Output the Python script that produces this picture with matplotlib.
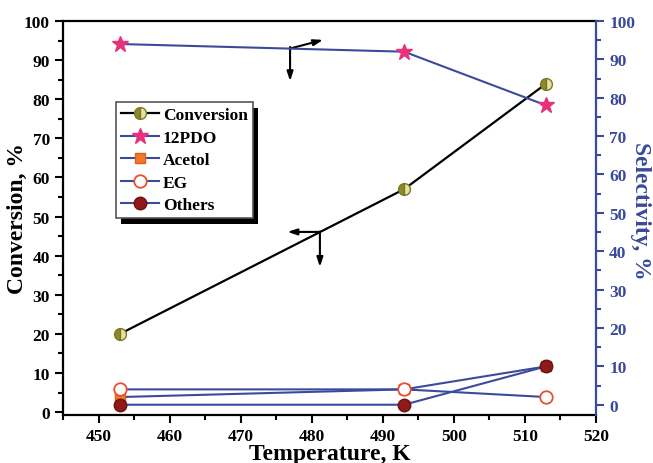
import matplotlib
matplotlib.use("Agg")
import matplotlib.pyplot as plt
from matplotlib.ticker import MultipleLocator
from matplotlib.patches import Rectangle
from matplotlib.transforms import IdentityTransform

plt.rcParams['font.family'] = ['Liberation Serif', 'DejaVu Serif']
plt.rcParams['font.weight'] = 'bold'

temperature = [453, 493, 513]
conversion = [20, 57, 84]
sel_12pdo = [94, 92, 78]
sel_acetol = [2, 4, 10]
sel_eg = [4, 4, 2]
sel_others = [0, 0, 10]

BLUE = '#3b4b9c'
BLUE_TXT = '#3a4a9a'

fig = plt.figure(figsize=(6.53, 4.64), dpi=100)
ax = fig.add_axes([0.0965, 0.1045, 0.8162, 0.8481])
ax2 = ax.twinx()

l_conv, = ax.plot(temperature, conversion, color='black', lw=1.6, marker='o', ms=8.5,
                  fillstyle='left', markerfacecolor='#8c8a2c', markerfacecoloralt='#e6e2a4',
                  markeredgecolor='#7a7822', markeredgewidth=1.0, label='Conversion', zorder=3)

l_pdo, = ax2.plot(temperature, sel_12pdo, color=BLUE, lw=1.5, marker='*', ms=12,
                  markerfacecolor='#e8307c', markeredgecolor='#e8307c', label='12PDO')
l_ac, = ax2.plot(temperature, sel_acetol, color=BLUE, lw=1.5, marker='s', ms=7,
                 markerfacecolor='#f07a2a', markeredgecolor='#d86020', label='Acetol')
l_eg, = ax2.plot(temperature, sel_eg, color=BLUE, lw=1.5, marker='o', ms=9,
                 markerfacecolor='white', markeredgecolor='#e8502e', markeredgewidth=1.3, label='EG')
l_ot, = ax2.plot(temperature, sel_others, color=BLUE, lw=1.5, marker='o', ms=9,
                 markerfacecolor='#8e1a1a', markeredgecolor='#6e1010', label='Others')

ax.set_xlim(445, 520)
ax.set_ylim(-0.6, 100)
ax2.set_ylim(-2.55, 100)

ax.xaxis.set_major_locator(MultipleLocator(10))
ax.xaxis.set_minor_locator(MultipleLocator(5))
ax.yaxis.set_major_locator(MultipleLocator(10))
ax.yaxis.set_minor_locator(MultipleLocator(5))
ax2.yaxis.set_major_locator(MultipleLocator(10))
ax2.yaxis.set_minor_locator(MultipleLocator(5))

ax.tick_params(axis='both', which='major', direction='out', length=6, width=1.5, labelsize=12.5)
ax.tick_params(axis='both', which='minor', direction='out', length=3.5, width=1.5)
ax2.tick_params(axis='y', which='major', direction='out', length=6, width=1.5, labelsize=12.5,
                colors=BLUE, labelcolor=BLUE_TXT)
ax2.tick_params(axis='y', which='minor', direction='out', length=3.5, width=1.5, colors=BLUE)

for sp in ['left', 'bottom', 'top']:
    ax.spines[sp].set_linewidth(1.6)
ax.spines['right'].set_visible(False)
for sp in ['left', 'bottom', 'top']:
    ax2.spines[sp].set_visible(False)
ax2.spines['right'].set_color(BLUE)
ax2.spines['right'].set_linewidth(1.6)

for lab in ax.get_xticklabels() + ax.get_yticklabels() + ax2.get_yticklabels():
    lab.set_fontweight('bold')

LABEL_FS = 17
ax.set_xlabel('Temperature, K', fontsize=LABEL_FS, fontweight='bold', va='center')
ax.xaxis.set_label_coords(0.5, -0.1)
ax.set_ylabel('Conversion, %', fontsize=LABEL_FS, fontweight='bold', va='center')
ax.yaxis.set_label_coords(-0.086, 0.5)
ax2.set_ylabel('Selectivity, %', fontsize=LABEL_FS, fontweight='bold', color=BLUE_TXT,
               rotation=270, va='center')
ax2.yaxis.set_label_coords(1.083, 0.52)

# arrows indicating axes
akw = dict(arrowstyle='-|>,head_length=0.55,head_width=0.18', color='black', lw=1.5,
           shrinkA=0, shrinkB=0)
ax.annotate('', xy=(0.426, 0.847), xytext=(0.426, 0.934), xycoords='axes fraction',
            arrowprops=akw)
ax.annotate('', xy=(0.488, 0.952), xytext=(0.426, 0.930), xycoords='axes fraction',
            arrowprops=akw)
ax.annotate('', xy=(0.421, 0.464), xytext=(0.482, 0.464), xycoords='axes fraction',
            arrowprops=akw)
ax.annotate('', xy=(0.482, 0.375), xytext=(0.482, 0.465), xycoords='axes fraction',
            arrowprops=akw)

leg = ax2.legend(handles=[l_conv, l_pdo, l_ac, l_eg, l_ot], loc='upper left',
                 bbox_to_anchor=(0.0994, 0.794), borderaxespad=0, fancybox=False,
                 frameon=True, edgecolor='#555555', framealpha=1,
                 prop={'family': 'Liberation Serif', 'weight': 'bold', 'size': 12.5},
                 handlelength=2.2, handletextpad=0.2, labelspacing=0.36,
                 borderpad=0.3)
leg.get_frame().set_linewidth(1.2)
leg.set_zorder(10)

fig.canvas.draw()
bb = leg.get_window_extent()
shadow = Rectangle((bb.x0 + 5, bb.y0 - 6), bb.width, bb.height, transform=IdentityTransform(),
                   facecolor='black', edgecolor='none', zorder=9, clip_on=False)
ax2.add_artist(shadow)

fig.savefig('out.png', dpi=100)
